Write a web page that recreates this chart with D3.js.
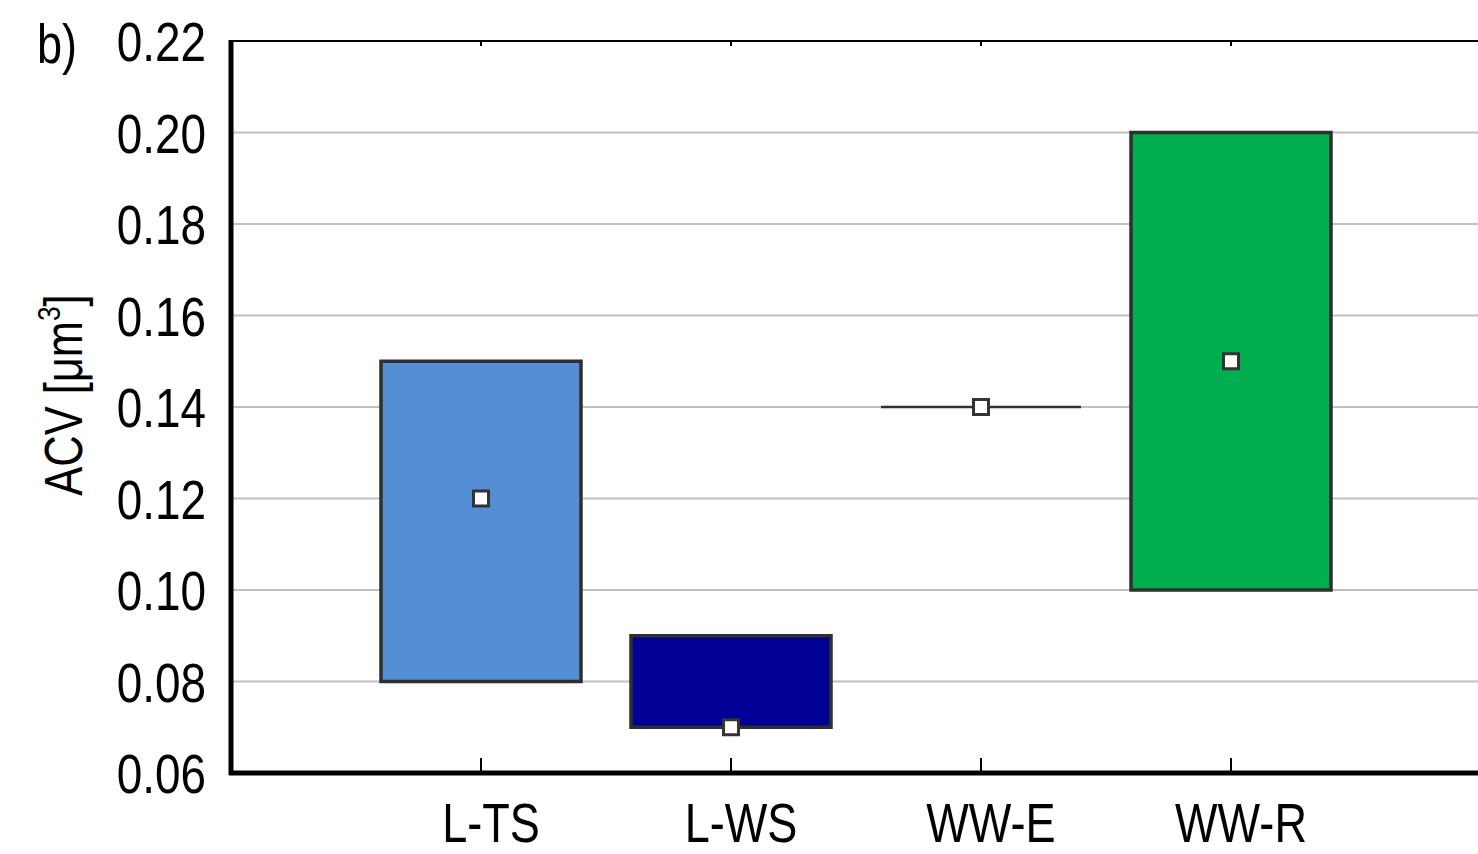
<!DOCTYPE html>
<html>
<head>
<meta charset="utf-8">
<script src="https://cdn.jsdelivr.net/npm/d3@7"></script>
<style>
  html, body { margin: 0; padding: 0; background: #fff; }
  svg { display: block; }
  text { font-family: "Liberation Sans Narrow", "Arial Narrow", "Liberation Sans", sans-serif; fill: #000; }
</style>
</head>
<body>
<svg id="chart" width="1478" height="854"></svg>
<script>
// ---- data ----
const categories = ["L-TS", "L-WS", "WW-E", "WW-R"];
const lowValues  = [0.08, 0.07, 0.14, 0.10];
const highValues = [0.15, 0.09, 0.14, 0.20];
const midValues  = [0.12, 0.07, 0.14, 0.15];
const boxColors  = ["#558ed5", "#000096", "#333333", "#00ad4f"];
const yTicks     = [0.06, 0.08, 0.10, 0.12, 0.14, 0.16, 0.18, 0.20, 0.22];
const yTitle     = "ACV [μm";
const panelLabel = "b)";

// ---- layout ----
const svg = d3.select("#chart");
const plotLeft = 231, plotRight = 1480, plotTop = 41, plotBottom = 773;
const narrow = 0.82; // horizontal squeeze to emulate a narrow typeface

const y = d3.scaleLinear().domain([0.06, 0.22]).range([plotBottom, plotTop]);
const x = d3.scaleBand().domain(categories).range([356, 1356]).paddingInner(0.2).paddingOuter(0.1);
const cx = c => x(c) + x.bandwidth() / 2;

// gridlines
svg.append("g").selectAll("line")
  .data(yTicks.filter(t => t > 0.06 && t < 0.22))
  .join("line")
  .attr("x1", plotLeft).attr("x2", plotRight)
  .attr("y1", d => y(d)).attr("y2", d => y(d))
  .attr("stroke", "#c0c0c0").attr("stroke-width", 2);

// top border & right border
svg.append("line").attr("x1", plotLeft).attr("x2", plotRight).attr("y1", plotTop).attr("y2", plotTop)
  .attr("stroke", "#000").attr("stroke-width", 2);
svg.append("line").attr("x1", plotRight - 1).attr("x2", plotRight - 1).attr("y1", plotTop).attr("y2", plotBottom)
  .attr("stroke", "#000").attr("stroke-width", 2);

// small top ticks
svg.append("g").selectAll("line").data(categories).join("line")
  .attr("x1", d => cx(d)).attr("x2", d => cx(d))
  .attr("y1", plotTop).attr("y2", plotTop + 5)
  .attr("stroke", "#000").attr("stroke-width", 2);

// boxes
const data = categories.map((c, i) => ({c, lo: lowValues[i], hi: highValues[i], mid: midValues[i], color: boxColors[i]}));
const boxW = x.bandwidth();

svg.append("g").selectAll("rect").data(data.filter(d => d.hi > d.lo)).join("rect")
  .attr("x", d => x(d.c)).attr("width", boxW)
  .attr("y", d => y(d.hi)).attr("height", d => y(d.lo) - y(d.hi))
  .attr("fill", d => d.color).attr("stroke", "#2f2f2f").attr("stroke-width", 3.5);

// zero-height boxes drawn as lines
svg.append("g").selectAll("line").data(data.filter(d => d.hi === d.lo)).join("line")
  .attr("x1", d => x(d.c)).attr("x2", d => x(d.c) + boxW)
  .attr("y1", d => y(d.hi)).attr("y2", d => y(d.hi))
  .attr("stroke", d => d.color).attr("stroke-width", 2.5);

// markers
const ms = 15;
svg.append("g").selectAll("rect").data(data).join("rect")
  .attr("x", d => cx(d.c) - ms / 2).attr("y", d => y(d.mid) - ms / 2)
  .attr("width", ms).attr("height", ms)
  .attr("fill", "#fff").attr("stroke", "#333").attr("stroke-width", 3);

// x axis
svg.append("line").attr("x1", plotLeft - 2).attr("x2", plotRight).attr("y1", plotBottom).attr("y2", plotBottom)
  .attr("stroke", "#000").attr("stroke-width", 5);
svg.append("g").selectAll("line").data(categories).join("line")
  .attr("x1", d => cx(d)).attr("x2", d => cx(d))
  .attr("y1", plotBottom).attr("y2", plotBottom - 15)
  .attr("stroke", "#000").attr("stroke-width", 2);
svg.append("g").selectAll("text").data(categories).join("text")
  .attr("transform", d => `translate(${cx(d) + 10},842) scale(${narrow},1)`)
  .attr("text-anchor", "middle").attr("font-size", 55)
  .text(d => d);

// y axis
svg.append("line").attr("x1", plotLeft).attr("x2", plotLeft).attr("y1", plotTop - 1).attr("y2", plotBottom + 2)
  .attr("stroke", "#000").attr("stroke-width", 5);
svg.append("g").selectAll("text").data(yTicks).join("text")
  .attr("transform", d => `translate(206,${y(d) + 20}) scale(${narrow},1)`)
  .attr("text-anchor", "end").attr("font-size", 56)
  .text(d => d3.format(".2f")(d));

// y title
const yt = svg.append("text")
  .attr("transform", `translate(82,395) rotate(-90) scale(${narrow},1)`)
  .attr("text-anchor", "middle").attr("font-size", 53);
yt.append("tspan").text(yTitle);
yt.append("tspan").attr("font-size", 32).attr("dy", -22).text("3");
yt.append("tspan").attr("dy", 22).text("]");

// panel label
svg.append("text").attr("transform", `translate(37,63) scale(${narrow},1)`).attr("font-size", 55).text(panelLabel);
</script>
</body>
</html>
